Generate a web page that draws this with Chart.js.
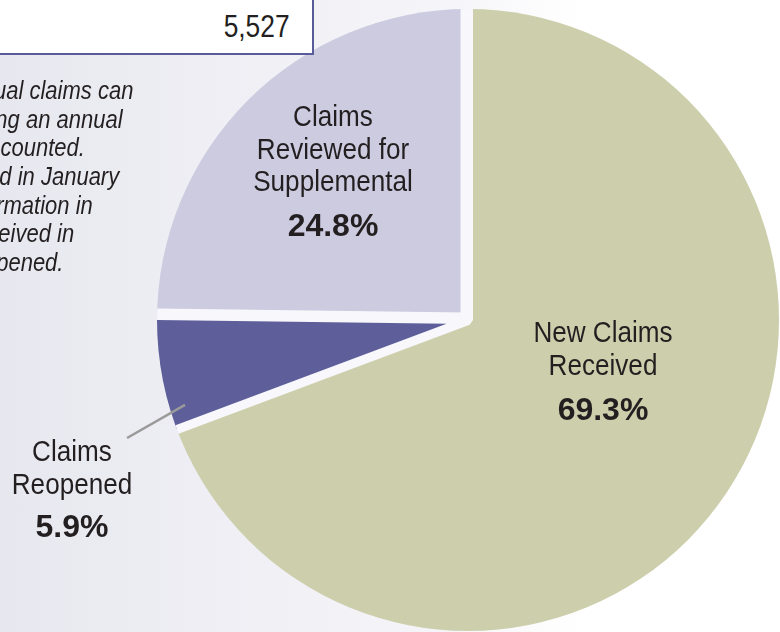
<!DOCTYPE html>
<html>
<head>
<meta charset="utf-8">
<script src="https://cdn.jsdelivr.net/npm/chart.js@4"></script>
<style>
  html, body { margin: 0; padding: 0; }
  body {
    width: 780px; height: 632px; overflow: hidden; position: relative;
    background: linear-gradient(to right, #e7e7ef 0px, #eeeef4 200px, #f5f5f9 440px, #ffffff 580px);
    font-family: "Liberation Sans", Arial, sans-serif;
    color: #231f20;
  }
  #totalBox {
    position: absolute; left: -4px; top: -4px; width: 318px; height: 59px;
    background: #fff; border-right: 2px solid #5a5b99; border-bottom: 2px solid #5a5b99;
    box-sizing: border-box;
  }
  #totalBox span {
    position: absolute; right: 22px; top: 15px; font-size: 31px; line-height: 31px;
    transform: scaleX(0.85); transform-origin: right center;
  }
  .note {
    position: absolute; white-space: nowrap; font-style: italic; font-size: 25px; line-height: 25px;
    transform: scaleX(0.88); transform-origin: right center;
  }
  #chartWrap { position: absolute; left: 0; top: 0; }
</style>
</head>
<body>
<div id="chartWrap"><canvas id="pieChart" width="780" height="632"></canvas></div>
<div id="totalBox"><span id="totalText"></span></div>
<div id="notes"></div>

<script>
// values
const categories = ["New Claims Received", "Claims Reopened", "Claims Reviewed for Supplemental"];
const shares = [69.3, 5.9, 24.8];
const labelLines = [["New Claims", "Received"], ["Claims", "Reopened"], ["Claims", "Reviewed for", "Supplemental"]];
const sliceColors = ["#cdcfac", "#5e5f9a", "#cccbe0"];
const totalClaims = "5,527";
const noteLines = ["ual claims can", "ng an annual", " counted.", "d in January", "rmation in", "eived in", "pened."];

document.getElementById("totalText").textContent = totalClaims;

// the note text is cut off at the left edge, so lines are right-aligned at where they end
const noteEnds = [133, 123, 85, 119, 93, 74, 63];
const noteTops = [78, 107, 135, 164, 193, 221, 250];
const notes = document.getElementById("notes");
noteLines.forEach((t, i) => {
    const d = document.createElement("div");
    d.className = "note";
    d.textContent = t;
    d.style.right = (780 - noteEnds[i]) + "px";
    d.style.top = noteTops[i] + "px";
    notes.appendChild(d);
});

// label block placement (centre x, first line y) per slice
const labelSpots = [
    { x: 603, y: 334, pctGap: 45 },
    { x: 72, y: 453, pctGap: 43 },
    { x: 333, y: 118, pctGap: 44 }
];

// cut the white slice borders off at the rim so only the gaps between slices show
const rimClip = {
    id: "rimClip",
    beforeDatasetsDraw(chart) {
        const arc = chart.getDatasetMeta(0).data[0];
        const ctx = chart.ctx;
        ctx.save();
        ctx.beginPath();
        ctx.arc(arc.x, arc.y, arc.outerRadius - 7, 0, Math.PI * 2);
        ctx.clip();
    },
    afterDatasetsDraw(chart) {
        chart.ctx.restore();
    }
};

const sliceLabels = {
    id: "sliceLabels",
    afterDatasetsDraw(chart) {
        const ctx = chart.ctx;
        const meta = chart.getDatasetMeta(0);
        ctx.save();

        // leader line for the small slice
        const arc = meta.data[1];
        const a = arc.startAngle + 0.18 * (arc.endAngle - arc.startAngle);
        const r = (arc.outerRadius - 7) * 0.95;
        ctx.strokeStyle = "#9a9a9a";
        ctx.lineWidth = 2.5;
        ctx.beginPath();
        ctx.moveTo(arc.x + Math.cos(a) * r, arc.y + Math.sin(a) * r);
        ctx.lineTo(127, 438);
        ctx.stroke();

        ctx.fillStyle = "#231f20";
        ctx.textAlign = "center";
        ctx.textBaseline = "middle";
        labelLines.forEach((lines, i) => {
            const spot = labelSpots[i];
            ctx.font = '30px "Liberation Sans", Arial, sans-serif';
            lines.forEach((ln, j) => {
                ctx.save();
                ctx.translate(spot.x, spot.y + j * 32.5);
                ctx.scale(0.87, 1);
                ctx.fillText(ln, 0, 0);
                ctx.restore();
            });
            ctx.font = 'bold 32px "Liberation Sans", Arial, sans-serif';
            ctx.fillText(shares[i].toFixed(1) + "%", spot.x, spot.y + (lines.length - 1) * 32.5 + spot.pctGap);
        });
        ctx.restore();
    }
};

const ctx = document.getElementById("pieChart").getContext("2d");
const pieChart = new Chart(ctx, {
    type: "pie",
    data: {
        labels: categories,
        datasets: [{
            data: shares,
            backgroundColor: sliceColors,
            borderColor: "#f8f8fc",
            borderWidth: [10, 8, 8],
            offset: [0, 0, 20],
            clip: false
        }]
    },
    options: {
        responsive: false,
        animation: false,
        radius: 318,
        layout: { padding: { left: 156, right: 0, top: 8, bottom: 0 } },
        plugins: {
            legend: { display: false },
            tooltip: { enabled: false }
        }
    },
    plugins: [rimClip, sliceLabels]
});
</script>
</body>
</html>
